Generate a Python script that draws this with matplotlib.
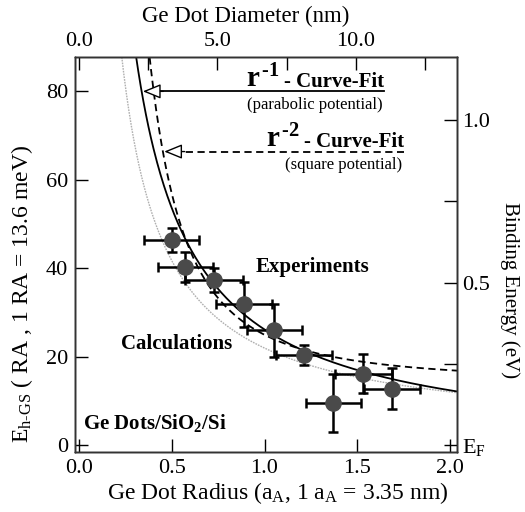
import numpy as np
import matplotlib
matplotlib.use("Agg")
import matplotlib.pyplot as plt

plt.rcParams['font.family'] = ['Liberation Serif', 'DejaVu Serif']
plt.rcParams['mathtext.fontset'] = 'custom'
plt.rcParams['mathtext.rm'] = 'Liberation Serif'
plt.rcParams['mathtext.it'] = 'Liberation Serif:italic'
plt.rcParams['mathtext.bf'] = 'Liberation Serif:bold'

# measured points: dot radius (a_A), E_h-GS (RA)
radius = [0.50, 0.572, 0.729, 0.89, 1.052, 1.213, 1.371, 1.532, 1.688]
energy = [46.4, 40.3, 37.3, 31.9, 26.0, 20.4, 9.6, 16.2, 12.8]
radius_err = [0.147, 0.148, 0.155, 0.150, 0.148, 0.150, 0.150, 0.153, 0.150]
energy_err = [2.7, 3.3, 2.7, 5.1, 6.0, 2.3, 6.6, 4.4, 4.6]

# curve-fit coefficients (E = a / r**p + b)
fit1_a, fit1_b = 27.5, -1.3      # r^-1, parabolic potential
fit2_a, fit2_b = 10.67, 14.33    # r^-2, square potential
calc_a, calc_b = 19.8, 2.2       # calculations

RA_TO_EV = 0.0136
AA_TO_NM_DIAM = 6.7

xlim = (-0.02, 2.035)
ylim = (-1.5, 87.8)

fig = plt.figure(figsize=(5.25, 5.12), dpi=100)
ax = fig.add_axes([0.143, 0.117, 0.727, 0.772])

r = np.linspace(0.2, 2.04, 400)
ax.plot(r, calc_a / r + calc_b, color='#b0b0b0', lw=1.0, dashes=(1.2, 0.8), zorder=1)
ax.plot(r, fit1_a / r + fit1_b, color='black', lw=1.3, zorder=1)
ax.plot(r, fit2_a / r**2 + fit2_b, color='black', lw=1.3, dashes=(4, 2.5), zorder=1)

ax.errorbar(radius, energy, xerr=radius_err, yerr=energy_err, fmt='o',
            ms=11, mfc='#4a4a4a', mec='#4a4a4a', ecolor='black',
            elinewidth=1.8, capsize=3.5, capthick=1.8, zorder=3)

ax.set_xlim(*xlim)
ax.set_ylim(*ylim)
ax.set_xticks([0.0, 0.5, 1.0, 1.5, 2.0])
ax.set_xticklabels(['0.0', '0.5', '1.0', '1.5', '2.0'])
ax.set_yticks([0, 20, 40, 60, 80])
ax.tick_params(direction='in', length=9.5, width=1.0, labelsize=16, pad=5)
for s in ax.spines.values():
    s.set_linewidth(1.0)
    s.set_color('#333333')

ax.set_xlabel('Ge Dot Radius (a$_{\\rm A}$, 1 a$_{\\rm A}$ = 3.35 nm)', fontsize=17)
ax.xaxis.set_label_coords(0.53, -0.07)
ax.set_ylabel('E$_{\\rm h\u2010GS}$ ( RA , 1 RA = 13.6 meV)', fontsize=17)
ax.yaxis.set_label_coords(-0.105, 0.4)

# top axis: diameter in nm
axt = ax.twiny()
axt.set_xlim(xlim[0] * AA_TO_NM_DIAM, xlim[1] * AA_TO_NM_DIAM)
axt.set_xticks([0, 2.5, 5, 7.5, 10, 12.5])
axt.set_xticklabels(['0.0', '', '5.0', '', '10.0', ''])
axt.tick_params(direction='in', length=9.5, width=1.0, labelsize=16, pad=4)
axt.set_xlabel('Ge Dot Diameter (nm)', fontsize=16.5)
axt.xaxis.set_label_coords(0.448, 1.087)

# right axis: binding energy in eV
axr = ax.twinx()
axr.set_ylim(ylim[0] * RA_TO_EV, ylim[1] * RA_TO_EV)
axr.set_yticks([0, 0.25, 0.5, 0.75, 1.0])
axr.set_yticklabels(['E$_{\\rm F}$', '', '0.5', '', '1.0'])
axr.tick_params(direction='in', length=9.5, width=1.0, labelsize=16, pad=4)
axr.set_ylabel('Binding Energy (eV)', fontsize=15, rotation=270)
axr.yaxis.set_label_coords(1.165, 0.41)
for a in (axt, axr):
    for s in a.spines.values():
        s.set_linewidth(1.0)
        s.set_color('#333333')

# annotations
ax.text(1.26, 40.3, 'Experiments', fontsize=15, fontweight='bold', ha='center', va='center')
ax.text(0.525, 22.9, 'Calculations', fontsize=15, fontweight='bold', ha='center', va='center')
ax.text(0.023, 5.1, 'Ge Dots/SiO$_{\\bf 2}$/Si', fontsize=15, fontweight='bold', ha='left', va='center')

fig.canvas.draw()

def fit_label(y, x_tip, x_end, power, note, dashed):
    ax.plot([x_tip + 0.05, x_end], [y, y], color='black', lw=1.3,
            dashes=(4, 2.5) if dashed else (None, None), zorder=2)
    ax.annotate('', xy=(x_tip, y), xytext=(x_tip + 0.11, y),
                arrowprops=dict(arrowstyle='-|>,head_length=1.1,head_width=0.45',
                                fc='white', ec='black', lw=1.0, shrinkA=0, shrinkB=0))
    t1 = ax.annotate('- Curve-Fit', xy=(x_end, y), xytext=(0, 3), textcoords='offset points',
                     fontsize=15, fontweight='bold', ha='right', va='baseline')
    fig.canvas.draw()
    w_pt = t1.get_window_extent().width * 72 / fig.dpi
    ax.annotate('$\\mathbf{r}^{\\,\\mathbf{\u2010%s}}$' % power, xy=(x_end, y),
                xytext=(-w_pt - 3, 3), textcoords='offset points',
                fontsize=21, ha='right', va='baseline')
    ax.annotate(note, xy=(x_end - 0.01, y), xytext=(0, -4), textcoords='offset points',
                fontsize=12, ha='right', va='top')

fit_label(80.0, 0.345, 1.645, '1', '(parabolic potential)', False)
fit_label(66.4, 0.46, 1.75, '2', '(square potential)', True)

fig.savefig('out.png', dpi=100)
